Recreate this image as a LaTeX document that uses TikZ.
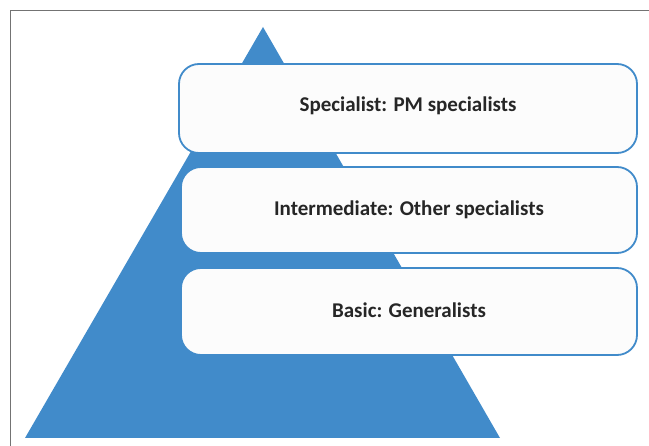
\documentclass[tikz,border=0pt]{standalone}
\usepackage{fontspec}
\setmainfont{Carlito}
\begin{document}
\begin{tikzpicture}[x=1pt,y=-1pt,
  pyr/.style={fill=pyrblue,draw=none},
  level/.style={draw=pyrblue,line width=1.8pt,fill=boxfill,rounded corners=20pt},
  lbl/.style={font=\bfseries\fontsize{21}{25}\selectfont,text=black!85}]
\definecolor{pyrblue}{HTML}{418BCA}
\definecolor{boxfill}{HTML}{FCFCFC}
\useasboundingbox (0,0) rectangle (649,446);
% frame
\draw[black!55,line width=1pt] (10,446) -- (10,11) -- (649,11);
% pyramid
\fill[pyr] (263,27) -- (500,438) -- (25,438) -- cycle;
% levels
\draw[level] (179,64) rectangle (637,153);
\draw[level] (181,167) rectangle (637,253);
\draw[level] (181,268) rectangle (637,355);
\node[lbl] (spec) at (408,106) {Specialist: PM specialists};
\node[lbl] (inter) at (409,210) {Intermediate: Other specialists};
\node[lbl] (basic) at (409,310) {Basic: Generalists};
\end{tikzpicture}
\end{document}
